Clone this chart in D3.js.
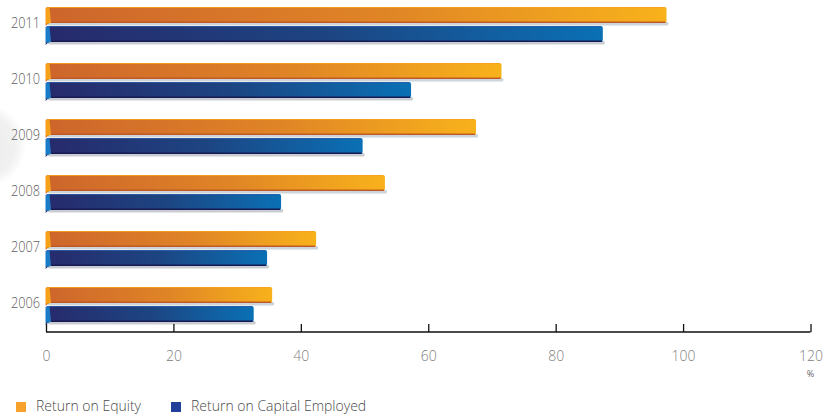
<!DOCTYPE html>
<html>
<head>
<meta charset="utf-8">
<script src="https://cdn.jsdelivr.net/npm/d3@7/dist/d3.min.js"></script>
<style>
  html, body { margin: 0; padding: 0; background: #fff; }
  svg { display: block; }
  text { font-family: "Open Sans", "Noto Sans", sans-serif; }
</style>
</head>
<body>
<svg id="chart" width="825" height="416"></svg>
<script>
// Years, top row first
const years = ["2011", "2010", "2009", "2008", "2007", "2006"];
// Return on Equity (%)
const roe = [97.4, 71.5, 67.5, 53.2, 42.4, 35.5];
// Return on Capital Employed (%)
const roce = [87.4, 57.3, 49.7, 36.9, 34.7, 32.6];
const seriesNames = ["Return on Equity", "Return on Capital Employed"];
const xTicks = [0, 20, 40, 60, 80, 100, 120];

const svg = d3.select("#chart");
const defs = svg.append("defs");

// soft grey disc at the left edge
const disc = defs.append("radialGradient").attr("id", "disc");
disc.append("stop").attr("offset", "0%").attr("stop-color", "#ebebeb");
disc.append("stop").attr("offset", "75%").attr("stop-color", "#f1f1f1");
disc.append("stop").attr("offset", "100%").attr("stop-color", "#ffffff");
svg.append("circle").attr("cx", -16).attr("cy", 146).attr("r", 42)
  .attr("fill", "url(#disc)");

// bar gradients
function linGrad(id, stops) {
  const g = defs.append("linearGradient").attr("id", id)
    .attr("x1", "0%").attr("x2", "100%").attr("y1", "0%").attr("y2", "0%");
  stops.forEach(s => g.append("stop").attr("offset", s[0]).attr("stop-color", s[1]));
}
linGrad("gOrange", [["0%", "#cd652c"], ["55%", "#e08526"], ["100%", "#f8b21b"]]);
linGrad("gBlue", [["0%", "#272a6c"], ["50%", "#1d4481"], ["100%", "#0a70b5"]]);

const x = d3.scaleLinear().domain([0, 120]).range([46, 810.5]);
const y = d3.scaleBand().domain(years).range([0, 336]);
const sub = d3.scaleBand().domain([0, 1]).range([7, 42]).paddingInner(3 / 19);

const rows = years.map((yr, i) => ({ year: yr, vals: [roe[i], roce[i]] }));

const styles = [
  { fill: "url(#gOrange)", edge: "#bf5a26", top: "#f6a21c", fold: "#f7a11b", foldDark: "#c65a20", shadow: "#cdd4da" },
  { fill: "url(#gBlue)", edge: "#171a55", top: "#2d5fa8", fold: "#1b7bc6", foldDark: "#1c2a6a", shadow: "#c9cdd1" }
];

const group = svg.selectAll("g.row").data(rows).join("g")
  .attr("class", "row")
  .attr("transform", d => `translate(0,${y(d.year)})`);

group.each(function (d) {
  const g = d3.select(this);
  d.vals.forEach((v, k) => {
    const st = styles[k];
    const top = sub(k), h = sub.bandwidth();
    const x0 = x(0), x1 = x(v);
    // shadow under the bar
    g.append("rect").attr("x", x0 + 2).attr("y", top + h - 1).attr("width", x1 - x0)
      .attr("height", 3.5).attr("rx", 1.5).attr("fill", st.shadow);
    // bar body
    g.append("rect").attr("x", x0).attr("y", top).attr("width", x1 - x0)
      .attr("height", h).attr("rx", 2).attr("fill", st.fill);
    // lower edge
    g.append("rect").attr("x", x0 + 3).attr("y", top + h - 1.5).attr("width", x1 - x0 - 4)
      .attr("height", 1.5).attr("fill", st.edge);
    // upper highlight
    g.append("rect").attr("x", x0 + 3).attr("y", top).attr("width", x1 - x0 - 5)
      .attr("height", 1).attr("fill", st.top).attr("opacity", 0.8);
    // folded ribbon end on the left
    g.append("path")
      .attr("d", `M${x0 - 0.5},${top + h + 3} L${x0 + 3},${top + h} L${x0},${top + h} Z`)
      .attr("fill", st.foldDark);
    g.append("path")
      .attr("d", `M${x0 - 0.5},${top + 1} L${x0 + 3.5},${top} L${x0 + 5},${top + h} L${x0 - 0.5},${top + h + 1} Z`)
      .attr("fill", st.fold);
  });
  // year label, slightly condensed
  g.append("text")
    .attr("transform", "translate(40,24) scale(0.88,1)")
    .attr("text-anchor", "end").attr("dominant-baseline", "middle")
    .attr("font-size", 14.5).attr("font-weight", 300).attr("fill", "#606060")
    .text(d.year);
});

// x axis along the bottom, ticks pointing up
const axisY = 332;
const axis = d3.axisBottom(x).tickValues(xTicks).tickSize(-8).tickPadding(0).tickFormat(d3.format("d"));
const ax = svg.append("g").attr("transform", `translate(0,${axisY})`).call(axis);
ax.select(".domain").attr("stroke", "#111").attr("stroke-width", 1.3).attr("d", `M${x(0)},0H${x(120)}`);
ax.selectAll(".tick line").attr("stroke", "#111").attr("stroke-width", 1.3);
ax.selectAll(".tick text")
  .attr("y", 25).attr("dy", 0).attr("dominant-baseline", "middle")
  .attr("font-size", 14).attr("font-weight", 300).attr("fill", "#808080")
  .attr("font-family", "\"Open Sans\", \"Noto Sans\", sans-serif");

svg.append("text").attr("x", x(120)).attr("y", 377)
  .attr("text-anchor", "middle").attr("font-size", 9).attr("fill", "#666").text("%");

// legend
const legendColors = ["#f6a22d", "#21409a"];
const legendX = [16, 171];
seriesNames.forEach((name, k) => {
  svg.append("rect").attr("x", legendX[k]).attr("y", 402).attr("width", 10).attr("height", 10)
    .attr("fill", legendColors[k]);
  svg.append("text").attr("x", legendX[k] + 20).attr("y", 407.5)
    .attr("dominant-baseline", "middle").attr("font-size", 14).attr("font-weight", 300)
    .attr("fill", "#4a4a4a").text(name);
});
</script>
</body>
</html>
